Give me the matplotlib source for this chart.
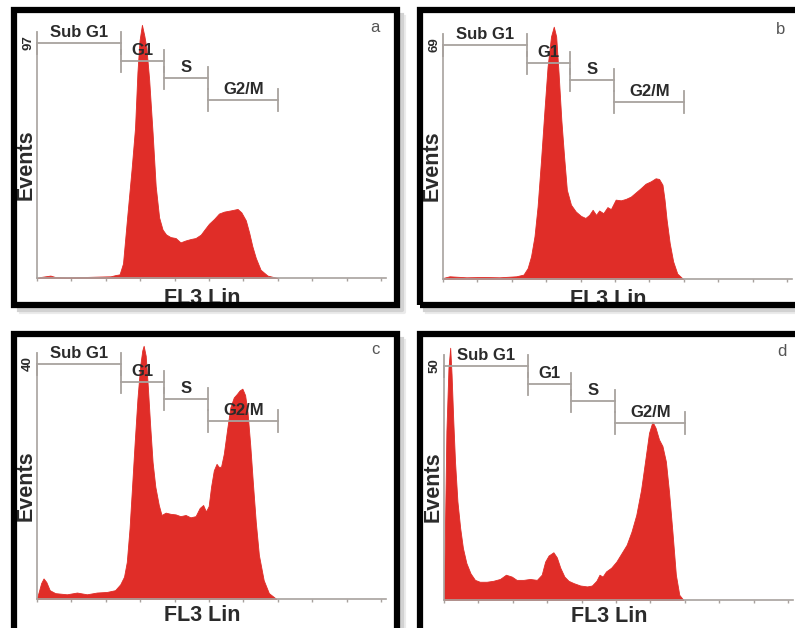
import matplotlib
matplotlib.use('Agg')
from matplotlib import pyplot as plt
from matplotlib import patches
from matplotlib.lines import Line2D

# ---- data (FL3 Lin channel, events) ----
panel_letters = ['a', 'b', 'c', 'd']
ymax_labels = [97, 69, 40, 50]
gate_names = ['Sub G1', 'G1', 'S', 'G2/M']
gate_edges = [0, 245, 370, 497, 702]
x_ticks = [0, 100, 200, 300, 400, 500, 600, 700, 800, 900, 1000]

a_x = [0, 10, 39, 53, 87, 136, 184, 214, 228, 240, 250, 262, 275, 285, 292, 298,
       305, 312, 318, 326, 336, 345, 355, 365, 375, 388, 403, 417, 432, 447,
       461, 476, 487, 500, 515, 529, 544, 563, 583, 594, 607, 617, 626, 636,
       650, 670, 699]
a_y = [0, 0.4, 1.0, 0.4, 0.3, 0.4, 0.6, 0.7, 1.2, 1.5, 6, 25, 45, 62, 85, 98,
       104.5, 100, 95, 82, 60, 38, 25, 20, 18, 16.9, 16.5, 14.7, 15.5, 16.1,
       16.5, 17.9, 20.0, 22.4, 24.4, 26.6, 27.4, 27.9, 28.5, 27.1, 23.8, 18.6,
       13.1, 8.3, 3.4, 1.0, 0]

b_x = [0, 19, 68, 116, 164, 213, 234, 246, 256, 266, 275, 285, 295, 304, 314,
       322, 329, 336, 344, 352, 360, 372, 386, 401, 414, 425, 435, 445, 454,
       466, 478, 488, 502, 517, 531, 546, 560, 575, 589, 604, 618, 628, 638,
       644, 650, 659, 669, 681, 698]
b_y = [0.3, 0.8, 0.5, 0.6, 0.5, 0.8, 1.3, 3.2, 6.7, 12.6, 21.4, 35.1, 49.9,
       62.6, 71.5, 74.4, 71.5, 60.7, 46.9, 36.1, 26.3, 21.9, 19.9, 18.6, 18.0,
       18.9, 20.4, 18.9, 20.2, 19.4, 21.2, 20.6, 23.4, 23.2, 23.6, 24.3, 25.5,
       26.8, 28.1, 28.8, 29.7, 29.5, 27.8, 23.4, 17.5, 10.6, 5.2, 1.6, 0]

c_x = [0, 5, 12, 19, 27, 37, 53, 87, 116, 145, 174, 203, 227, 242, 253, 261,
       269, 276, 284, 292, 300, 306, 310, 316, 322, 329, 336, 344, 354, 362,
       374, 388, 403, 417, 432, 446, 461, 473, 483, 491, 499, 506, 514, 522,
       528, 535, 543, 553, 562, 572, 581, 589, 597, 605, 612, 620, 628, 636,
       645, 659, 674, 696]
c_y = [0.2, 1.2, 2.7, 3.5, 2.9, 1.5, 1.0, 0.8, 1.1, 0.8, 1.1, 1.2, 1.5, 2.5,
       3.8, 6.3, 12.0, 18.8, 26.7, 34.1, 39.7, 42.3, 43.1, 41.4, 36.3, 29.5,
       23.3, 19.1, 16.0, 14.3, 14.7, 14.5, 14.4, 14.1, 14.3, 13.9, 14.1, 15.5,
       16.0, 14.9, 15.8, 19.1, 21.9, 23.0, 22.5, 22.5, 24.7, 29.0, 32.6, 34.3,
       34.9, 35.5, 35.8, 34.7, 31.8, 26.1, 19.4, 13.1, 7.5, 3.2, 1.0, 0]

d_x = [0, 2, 7, 13, 18, 22, 27, 32, 39, 47, 55, 65, 77, 90, 104, 124, 143, 163,
       180, 197, 211, 231, 250, 270, 284, 294, 304, 318, 328, 338, 350, 362,
       377, 396, 416, 430, 443, 452, 461, 471, 486, 501, 516, 531, 545, 559,
       573, 586, 596, 606, 615, 625, 635, 645, 654, 664, 674, 684, 696]
d_y = [0, 11.1, 36.1, 49.6, 53.9, 48.2, 38.2, 29.6, 21.1, 15.4, 11.1, 7.9, 5.7,
       4.3, 3.9, 3.9, 4.1, 4.5, 5.4, 5.0, 4.3, 4.3, 4.5, 4.3, 5.4, 8.2, 9.5,
       10.2, 9.1, 6.9, 5.0, 4.1, 3.6, 3.1, 2.9, 3.1, 4.1, 5.4, 5.0, 6.1, 6.9,
       8.2, 10.0, 11.8, 14.6, 18.2, 23.6, 30.4, 35.7, 38.1, 36.8, 34.3, 32.9,
       29.6, 23.2, 14.6, 5.4, 1.1, 0]

xs = [a_x, b_x, c_x, d_x]
ys = [a_y, b_y, c_y, d_y]

# ---- layout (pixels of a 795x628 canvas) ----
W, H = 795, 628
# y-axis x, baseline y, y of the max label
axes_px = [(37, 278, 43), (443, 279, 45), (37, 599, 364), (444, 600, 366)]
# gap between baseline and top of the x label
xlabel_gap = [10, 10, 6, 6]
# border boxes: left, top, right, bottom (stroke centre)
border_px = [(14, 10, 397, 305), (420, 10, 810, 305),
             (14, 334, 397, 645), (420, 334, 810, 645)]
px_per_100 = 34.4
x_end = 1015

red = '#E02D28'
grey_line = '#A8A29E'
text_col = '#2B2B2B'
gate_levels = [1.0, 0.925, 0.852, 0.758]

matplotlib.rcParams['font.family'] = 'Liberation Sans'


def fx(px):
    return px / W


def fy(py):
    return 1 - py / H


fig = plt.figure(figsize=(W / 100, H / 100), dpi=100)
fig.patch.set_facecolor('white')

for i in range(4):
    x0, y0, ytop = axes_px[i]
    ymax = ymax_labels[i]
    extra = 34  # room above the max label for the peaks
    width_px = x_end / 100 * px_per_100
    height_px = y0 - ytop + extra
    ax = fig.add_axes([fx(x0), fy(y0), width_px / W, height_px / H])
    ax.patch.set_alpha(0)
    ax.set_xlim(0, x_end)
    ax.set_ylim(0, ymax * height_px / (y0 - ytop))

    ax.fill_between(xs[i], ys[i], 0, color=red, lw=0.6, zorder=2)

    for s in ['top', 'right']:
        ax.spines[s].set_visible(False)
    for s in ['left', 'bottom']:
        ax.spines[s].set_color(grey_line)
        ax.spines[s].set_linewidth(1.2)
    ax.spines['left'].set_bounds(0, ymax)
    ax.set_yticks([])
    ax.set_xticks(x_ticks)
    ax.set_xticklabels([])
    ax.tick_params(axis='x', direction='out', length=2.5, width=1,
                   color=grey_line)

    # gate markers
    half = 0.047 * ymax
    for g in range(4):
        lo, hi = gate_edges[g], gate_edges[g + 1]
        lev = gate_levels[g] * ymax
        ax.plot([lo, hi], [lev, lev], color=grey_line, lw=1.3, zorder=3,
                clip_on=False)
        for e in (lo, hi):
            ax.plot([e, e], [lev - half, lev + half], color=grey_line, lw=1.3,
                    zorder=3, clip_on=False)
        ax.text((lo + hi) / 2, lev + 0.012 * ymax, gate_names[g],
                ha='center', va='bottom', fontsize=12, fontweight='bold',
                color=text_col, zorder=4)

    # axis texts
    fig.text(fx(x0 - 9), fy(ytop), str(ymax), rotation=90, ha='center',
             va='center', fontsize=9.5, fontweight='bold', color=text_col)
    fig.text(fx(x0 - 11), fy((y0 + ytop) / 2 + 4), 'Events', rotation=90,
             ha='center', va='center', fontsize=15.5, fontweight='bold',
             color=text_col)
    fig.text(fx(x0 + 165), fy(y0 + xlabel_gap[i]), 'FL3 Lin', ha='center',
             va='top', fontsize=15.5, fontweight='bold', color=text_col)
    fig.text(fx(x0 + 338), fy(ytop - 15), panel_letters[i], ha='center',
             va='center', fontsize=12, color='#555555')

    # framed box with a soft shadow on the outer right and bottom sides
    l, t, r, b = border_px[i]
    for off, c in [(7, '#ebebeb'), (5, '#d2d2d2')]:
        fig.add_artist(Line2D([fx(r + off), fx(r + off), fx(l + off)],
                              [fy(t + off), fy(b + off), fy(b + off)],
                              transform=fig.transFigure, color=c, lw=3,
                              zorder=9))
    fig.add_artist(patches.Rectangle((fx(l), fy(b)), (r - l) / W, (b - t) / H,
                                     transform=fig.transFigure, fill=False,
                                     ec='black', lw=4.5, zorder=10))

plt.savefig('out.png', dpi=100)
